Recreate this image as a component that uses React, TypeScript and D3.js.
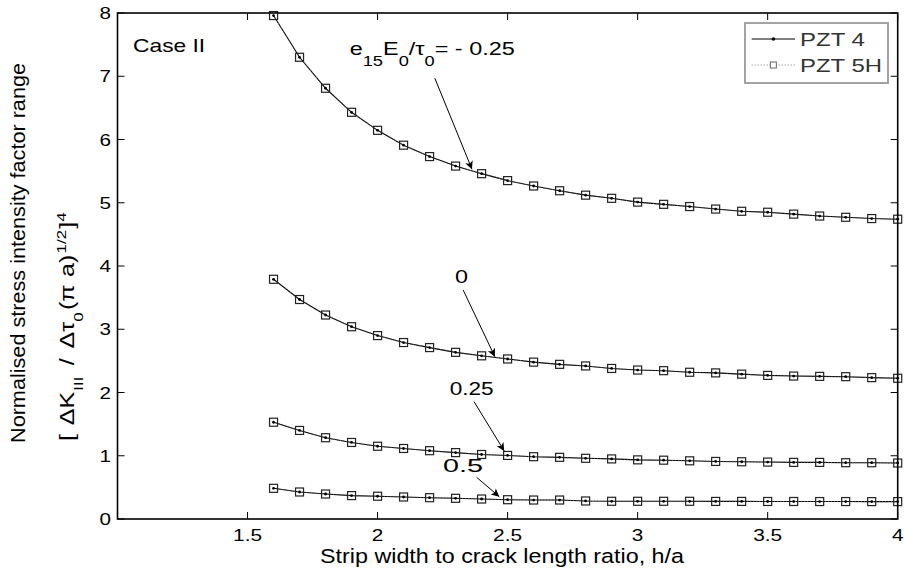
import { line, scaleLinear } from "d3";

// h/a sample points (both materials share the same grid)
const hRatio = [
  1.6, 1.7, 1.8, 1.9, 2.0, 2.1, 2.2, 2.3, 2.4, 2.5, 2.6, 2.7, 2.8, 2.9, 3.0,
  3.1, 3.2, 3.3, 3.4, 3.5, 3.6, 3.7, 3.8, 3.9, 4.0,
];

// normalised range for e15E0/tau0 = -0.25, 0, 0.25, 0.5 (PZT 5H lies on PZT 4)
const kNeg025 = [
  7.96, 7.3, 6.81, 6.43, 6.145, 5.91, 5.73, 5.58, 5.46, 5.35, 5.265, 5.19,
  5.12, 5.07, 5.01, 4.975, 4.94, 4.9, 4.865, 4.85, 4.82, 4.79, 4.77, 4.75, 4.74,
];
const kZero = [
  3.79, 3.47, 3.225, 3.04, 2.9, 2.79, 2.71, 2.635, 2.58, 2.53, 2.48, 2.445,
  2.42, 2.38, 2.355, 2.345, 2.32, 2.31, 2.29, 2.27, 2.26, 2.255, 2.25, 2.235,
  2.225,
];
const kPos025 = [
  1.53, 1.4, 1.285, 1.21, 1.15, 1.115, 1.08, 1.05, 1.02, 1.005, 0.985, 0.975,
  0.96, 0.95, 0.935, 0.93, 0.92, 0.91, 0.905, 0.9, 0.895, 0.895, 0.89, 0.89,
  0.885,
];
const kPos05 = [
  0.485, 0.427, 0.395, 0.37, 0.36, 0.348, 0.337, 0.327, 0.316, 0.305, 0.3, 0.3,
  0.285, 0.28, 0.28, 0.28, 0.28, 0.278, 0.278, 0.277, 0.277, 0.276, 0.276,
  0.275, 0.275,
];
const curves = [kNeg025, kZero, kPos025, kPos05];

const xTicks = [1.5, 2, 2.5, 3, 3.5, 4];
const yTicks = [0, 1, 2, 3, 4, 5, 6, 7, 8];
const legendLabels = ["PZT 4", "PZT 5H"];

// labelled arrows, positions in data units
const arrowNotes = [
  { text: "0", at: [2.323, 3.727], from: [2.329, 3.621], to: [2.451, 2.566] },
  { text: "0.25", at: [2.362, 1.96], from: [2.371, 1.855], to: [2.487, 1.075] },
  { text: "0.5", at: [2.329, 0.748], from: [2.381, 0.659], to: [2.468, 0.353] },
];
const topNote = { at: [1.893, 7.336], from: [2.22, 6.97], to: [2.363, 5.53] };

const FONT = "'Liberation Sans', Arial, Helvetica, sans-serif";
const W = 904;
const H = 572;
const PLOT = { left: 117.5, right: 897.7, top: 13, bottom: 519 };
const TICK = 7;
const STRETCH = "spacingAndGlyphs";

const App = () => {
  const x = scaleLinear().domain([1, 4]).range([PLOT.left, PLOT.right]);
  const y = scaleLinear().domain([0, 8]).range([PLOT.bottom, PLOT.top]);

  const path = line<number>()
    .x((_, i) => x(hRatio[i]))
    .y((d) => y(d));

  const lx = 751.7;
  const lw = 43.3;

  return (
    <svg
      width={W}
      height={H}
      style={{ position: "absolute", left: 0, top: 0, background: "#fff" }}
      fontFamily={FONT}
    >
      <defs>
        <marker
          id="head"
          viewBox="0 0 10 10"
          refX={10}
          refY={5}
          markerWidth={11}
          markerHeight={8}
          markerUnits="userSpaceOnUse"
          orient="auto"
        >
          <path d="M0,0 L10,5 L0,10 L2.5,5 z" fill="#000" />
        </marker>
      </defs>

      {/* curves: PZT 4 solid + dots, PZT 5H dotted + squares */}
      {curves.map((c, k) => (
        <g key={k}>
          <path d={path(c) ?? ""} fill="none" stroke="#000" strokeWidth={1.1} />
          <path
            d={path(c) ?? ""}
            fill="none"
            stroke="#555"
            strokeWidth={1}
            strokeDasharray="1,2"
          />
          {c.map((v, i) => (
            <rect
              key={"s" + i}
              x={x(hRatio[i]) - 4}
              y={y(v) - 4}
              width={8}
              height={8}
              fill="none"
              stroke="#222"
              strokeWidth={1.2}
            />
          ))}
          {c.map((v, i) => (
            <circle key={"d" + i} cx={x(hRatio[i])} cy={y(v)} r={1.4} fill="#000" />
          ))}
        </g>
      ))}

      {/* axes box */}
      <rect
        x={PLOT.left}
        y={PLOT.top}
        width={PLOT.right - PLOT.left}
        height={PLOT.bottom - PLOT.top}
        fill="none"
        stroke="#000"
        strokeWidth={1.6}
      />
      {xTicks.map((t) => (
        <g key={"x" + t}>
          <line x1={x(t)} x2={x(t)} y1={PLOT.bottom} y2={PLOT.bottom - TICK} stroke="#000" />
          <line x1={x(t)} x2={x(t)} y1={PLOT.top} y2={PLOT.top + TICK} stroke="#000" />
          <text
            x={x(t)}
            y={541}
            fontSize={16.5}
            textAnchor="middle"
            textLength={String(t).length > 1 ? 29 : 11.5}
            lengthAdjust={STRETCH}
          >
            {t}
          </text>
        </g>
      ))}
      {yTicks.map((t) => (
        <g key={"y" + t}>
          <line x1={PLOT.left} x2={PLOT.left + TICK} y1={y(t)} y2={y(t)} stroke="#000" />
          <line x1={PLOT.right} x2={PLOT.right - TICK} y1={y(t)} y2={y(t)} stroke="#000" />
          <text
            x={111}
            y={y(t) + 6}
            fontSize={16.5}
            textAnchor="end"
            textLength={11.5}
            lengthAdjust={STRETCH}
          >
            {t}
          </text>
        </g>
      ))}

      {/* axis titles */}
      <text x={320} y={563} fontSize={20.5} textLength={364} lengthAdjust={STRETCH}>
        Strip width to crack length ratio, h/a
      </text>
      <text
        transform="translate(25,443) rotate(-90)"
        fontSize={20.5}
        textLength={380}
        lengthAdjust={STRETCH}
      >
        Normalised stress intensity factor range
      </text>
      <text transform="translate(74,441) rotate(-90) scale(1.25,1)" fontSize={20}>
        [<tspan dx={7}>ΔK</tspan>
        <tspan fontSize={13.5} dy={9} dx={1}>III</tspan>
        <tspan dy={-9} dx={9}>/</tspan>
        <tspan dx={8}>Δτ</tspan>
        <tspan fontSize={13.5} dy={9}>0</tspan>
        <tspan dy={-9} dx={2}>(π</tspan>
        <tspan dx={6}>a)</tspan>
        <tspan fontSize={13.5} dy={-8} dx={1}>1/2</tspan>
        <tspan dy={8} dx={1}>]</tspan>
        <tspan fontSize={13.5} dy={-8}>4</tspan>
      </text>

      {/* annotations */}
      <text x={x(1.06)} y={y(7.38)} fontSize={18.5} textLength={72} lengthAdjust={STRETCH}>
        Case II
      </text>
      <text
        x={x(topNote.at[0])}
        y={y(topNote.at[1])}
        fontSize={18}
        textLength={165}
        lengthAdjust={STRETCH}
      >
        e<tspan fontSize={14} dy={11}>15</tspan>
        <tspan dy={-11}>E</tspan>
        <tspan fontSize={14} dy={11}>0</tspan>
        <tspan dy={-11}>/τ</tspan>
        <tspan fontSize={14} dy={11}>0</tspan>
        <tspan dy={-11}>= - 0.25</tspan>
      </text>
      <line
        x1={x(topNote.from[0])}
        y1={y(topNote.from[1])}
        x2={x(topNote.to[0])}
        y2={y(topNote.to[1])}
        stroke="#000"
        strokeWidth={1}
        markerEnd="url(#head)"
      />
      {arrowNotes.map((a) => (
        <g key={a.text}>
          <text
            x={x(a.at[0])}
            y={y(a.at[1])}
            fontSize={18}
            textAnchor="middle"
            textLength={a.text.length > 3 ? 44 : a.text.length > 1 ? 40 : 13}
            lengthAdjust={STRETCH}
          >
            {a.text}
          </text>
          <line
            x1={x(a.from[0])}
            y1={y(a.from[1])}
            x2={x(a.to[0])}
            y2={y(a.to[1])}
            stroke="#000"
            strokeWidth={1}
            markerEnd="url(#head)"
          />
        </g>
      ))}

      {/* legend */}
      <rect x={745} y={23} width={143} height={60} fill="#fff" stroke="#999" strokeWidth={1.8} />
      <line x1={lx} x2={lx + lw} y1={39} y2={39} stroke="#000" strokeWidth={1} />
      <circle cx={lx + lw / 2} cy={39} r={1.8} fill="#000" />
      <text x={800} y={45.7} fontSize={17.5} fill="#333" textLength={65} lengthAdjust={STRETCH}>
        {legendLabels[0]}
      </text>
      <line
        x1={lx}
        x2={lx + lw}
        y1={65}
        y2={65}
        stroke="#777"
        strokeWidth={1}
        strokeDasharray="1,2"
      />
      <rect x={lx + lw / 2 - 3} y={62} width={6} height={6} fill="#fff" stroke="#666" strokeWidth={1} />
      <text x={800} y={71.7} fontSize={17.5} fill="#333" textLength={82} lengthAdjust={STRETCH}>
        {legendLabels[1]}
      </text>
    </svg>
  );
};

export default App;
